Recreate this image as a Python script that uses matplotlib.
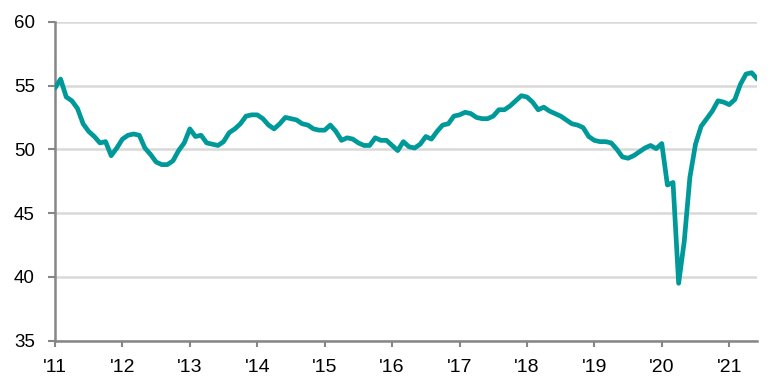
import numpy as np
import matplotlib
matplotlib.use("Agg")
import matplotlib.pyplot as plt

plt.rcParams['font.family'] = ['Liberation Sans', 'DejaVu Sans']

# monthly index values, Jan 2011 .. Jun 2021
y2011 = [54.8, 55.5, 54.1, 53.8, 53.2, 52.0, 51.4, 51.0, 50.5, 50.6, 49.5, 50.1]
y2012 = [50.8, 51.1, 51.2, 51.1, 50.1, 49.6, 49.0, 48.8, 48.8, 49.1, 49.9, 50.5]
y2013 = [51.6, 51.0, 51.1, 50.5, 50.4, 50.3, 50.6, 51.3, 51.6, 52.0, 52.6, 52.7]
y2014 = [52.7, 52.4, 51.9, 51.6, 52.0, 52.5, 52.4, 52.3, 52.0, 51.9, 51.6, 51.5]
y2015 = [51.5, 51.9, 51.4, 50.7, 50.9, 50.8, 50.5, 50.3, 50.3, 50.9, 50.7, 50.7]
y2016 = [50.3, 49.9, 50.6, 50.2, 50.1, 50.4, 51.0, 50.8, 51.4, 51.9, 52.0, 52.6]
y2017 = [52.7, 52.9, 52.8, 52.5, 52.4, 52.4, 52.6, 53.1, 53.1, 53.4, 53.8, 54.2]
y2018 = [54.1, 53.7, 53.1, 53.3, 53.0, 52.8, 52.6, 52.3, 52.0, 51.9, 51.7, 51.0]
y2019 = [50.7, 50.6, 50.6, 50.5, 50.0, 49.4, 49.3, 49.5, 49.8, 50.1, 50.3, 50.05]
y2020 = [50.45, 47.2, 47.4, 39.5, 42.8, 47.8, 50.4, 51.8, 52.4, 53.0, 53.8, 53.7]
y2021 = [53.5, 53.9, 55.1, 55.9, 56.0, 55.5]

values = np.array(y2011 + y2012 + y2013 + y2014 + y2015 + y2016 +
                  y2017 + y2018 + y2019 + y2020 + y2021)
months = np.arange(len(values))

year_labels = ["'11", "'12", "'13", "'14", "'15", "'16", "'17", "'18", "'19", "'20", "'21"]
year_ticks = np.arange(len(year_labels)) * 12

grey = '#868686'

fig = plt.figure(figsize=(7.72, 3.82), dpi=100)
ax = fig.add_axes([55/772, 1 - 340.7/382, (757.3 - 55)/772, (340.7 - 21.7)/382])

ax.plot(months, values, color='#009999', lw=3.4,
        solid_capstyle='round', solid_joinstyle='round', zorder=3)

ax.set_xlim(0, months[-1])
ax.set_ylim(35, 60)
ax.set_yticks([35, 40, 45, 50, 55, 60])
ax.set_xticks(year_ticks)
ax.set_xticklabels(year_labels)

ax.yaxis.grid(True, color='#d9d9d9', lw=1.8)
ax.set_axisbelow(True)

for s in ['top', 'right']:
    ax.spines[s].set_visible(False)
for s in ['left', 'bottom']:
    ax.spines[s].set_color(grey)
    ax.spines[s].set_linewidth(1.8)

ax.tick_params(axis='y', direction='out', length=5, width=1.5, color=grey,
               pad=9.5, labelsize=13.5, labelcolor='black')
ax.tick_params(axis='x', direction='out', length=4.5, width=1.5, color=grey,
               pad=9, labelsize=14, labelcolor='black')

fig.savefig('out.png', dpi=100)
